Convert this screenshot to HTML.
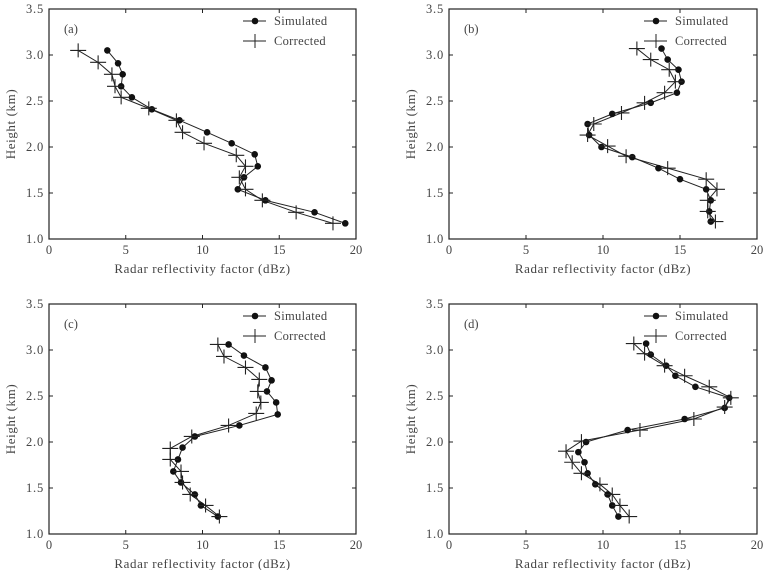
<!DOCTYPE html>
<html><head><meta charset="utf-8"><style>
body{margin:0;background:#fff;width:765px;height:570px;overflow:hidden}
svg{display:block}
text{font-family:"Liberation Serif",serif;fill:#444}
</style></head><body>
<svg id="chart" width="765" height="570"></svg>
<script>
const panelLabels=["(a)","(b)","(c)","(d)"];
const xTicks=[0,5,10,15,20];
const yTicks=[1.0,1.5,2.0,2.5,3.0,3.5];
const simA=[[3.8,3.05],[4.5,2.91],[4.8,2.79],[4.7,2.66],[5.4,2.54],[6.7,2.41],[8.5,2.29],[10.3,2.16],[11.9,2.04],[13.4,1.92],[13.6,1.79],[12.7,1.67],[12.3,1.54],[14.1,1.42],[17.3,1.29],[19.3,1.17]];
const corA=[[1.9,3.05],[3.2,2.92],[4.1,2.79],[4.3,2.66],[4.7,2.54],[6.5,2.42],[8.3,2.29],[8.7,2.16],[10.1,2.04],[12.2,1.91],[12.8,1.79],[12.4,1.67],[12.8,1.54],[13.9,1.42],[16.1,1.29],[18.5,1.17]];
const simB=[[13.8,3.07],[14.2,2.95],[14.9,2.84],[15.1,2.71],[14.8,2.59],[13.1,2.48],[10.6,2.36],[9.0,2.25],[9.1,2.13],[9.9,2.0],[11.9,1.89],[13.6,1.77],[15.0,1.65],[16.7,1.54],[17.0,1.42],[16.9,1.30],[17.0,1.19]];
const corB=[[12.2,3.07],[13.1,2.95],[14.3,2.84],[14.7,2.71],[14.0,2.59],[12.7,2.48],[11.2,2.37],[9.4,2.25],[9.0,2.13],[10.3,2.01],[11.5,1.90],[14.2,1.77],[16.7,1.65],[17.4,1.54],[16.8,1.42],[16.8,1.30],[17.3,1.19]];
const simC=[[11.7,3.06],[12.7,2.94],[14.1,2.81],[14.5,2.67],[14.2,2.55],[14.8,2.43],[14.9,2.30],[12.4,2.18],[9.5,2.06],[8.7,1.94],[8.4,1.81],[8.1,1.68],[8.6,1.56],[9.5,1.43],[9.9,1.31],[11.0,1.19]];
const corC=[[11.0,3.06],[11.4,2.93],[12.8,2.81],[13.7,2.68],[13.6,2.55],[13.8,2.43],[13.5,2.31],[11.7,2.18],[9.3,2.06],[7.9,1.93],[7.9,1.81],[8.6,1.68],[8.7,1.56],[9.2,1.43],[10.2,1.31],[11.1,1.19]];
const simD=[[12.8,3.07],[13.1,2.95],[14.1,2.83],[14.7,2.72],[16.0,2.60],[18.2,2.48],[17.9,2.37],[15.3,2.25],[11.6,2.13],[8.9,2.00],[8.4,1.89],[8.8,1.78],[9.0,1.66],[9.5,1.54],[10.3,1.43],[10.6,1.31],[11.0,1.19]];
const corD=[[12.0,3.07],[12.7,2.96],[14.0,2.83],[15.3,2.72],[16.9,2.60],[18.3,2.48],[17.9,2.38],[15.9,2.25],[12.4,2.13],[8.6,2.01],[7.6,1.90],[8.0,1.78],[8.6,1.66],[9.8,1.54],[10.6,1.43],[11.1,1.31],[11.7,1.19]];
const simulated=[simA,simB,simC,simD];
const corrected=[corA,corB,corC,corD];

const NS="http://www.w3.org/2000/svg";
const svg=document.getElementById('chart');
function mk(tag,attrs,parent){const e=document.createElementNS(NS,tag);for(const k in attrs)e.setAttribute(k,attrs[k]);(parent||svg).appendChild(e);return e;}
const boxes=[{x0:49,x1:356,y0:9,y1:239},{x0:449,x1:757,y0:9,y1:239},{x0:49,x1:356,y0:304,y1:534},{x0:449,x1:757,y0:304,y1:534}];
boxes.forEach((b,i)=>{
  const g=mk('g',{});
  
  
  const sx=v=>b.x0+(v-0)/20*(b.x1-b.x0);
  const sy=v=>b.y1-(v-1)/2.5*(b.y1-b.y0);
  const frame=mk('rect',{x:b.x0,y:b.y0,width:b.x1-b.x0,height:b.y1-b.y0,fill:'none',stroke:'#222','stroke-width':1.2},g);
  
  
  xTicks.forEach(t=>{
    const x=sx(t);
    mk('line',{x1:x,x2:x,y1:b.y1,y2:b.y1-4,stroke:'#222'},g);
    mk('line',{x1:x,x2:x,y1:b.y0,y2:b.y0+4,stroke:'#222'},g);
    const tl=mk('text',{x:x,y:b.y1+15,'text-anchor':'middle','font-size':12.5},g);tl.textContent=t;
    
    
  });
  yTicks.forEach(t=>{
    const y=sy(t);
    mk('line',{x1:b.x0,x2:b.x0+4,y1:y,y2:y,stroke:'#222'},g);
    mk('line',{x1:b.x1,x2:b.x1-4,y1:y,y2:y,stroke:'#222'},g);
    const tl=mk('text',{x:b.x0-5,y:y+4,'text-anchor':'end','font-size':12.5,'letter-spacing':'0.8'},g);tl.textContent=t.toFixed(1);
    
    
  });
  const xl=mk('text',{x:(b.x0+b.x1)/2,y:b.y1+34,'text-anchor':'middle','font-size':13,'letter-spacing':'0.6'},g);xl.textContent='Radar  reflectivity  factor  (dBz)';
  
  
  const yl=mk('text',{x:0,y:0,'text-anchor':'middle','font-size':13,'letter-spacing':'0.6',transform:`translate(${b.x0-34},${(b.y0+b.y1)/2}) rotate(-90)`},g);yl.textContent='Height  (km)';
  
  
  const pl=mk('text',{x:b.x0+15,y:b.y0+24,'font-size':12.5},g);pl.textContent=panelLabels[i];
  
  
  const s=simulated[i], c=corrected[i];
  const sl=mk('polyline',{points:s.map(p=>sx(p[0])+','+sy(p[1])).join(' '),fill:'none',stroke:'#222','stroke-width':1},g);
  
  
  const cl=mk('polyline',{points:c.map(p=>sx(p[0])+','+sy(p[1])).join(' '),fill:'none',stroke:'#222','stroke-width':1},g);
  
  
  s.forEach(p=>{const d=mk('circle',{cx:sx(p[0]),cy:sy(p[1]),r:3.3,fill:'#111'},g);
    
    });
  c.forEach(p=>{const x=sx(p[0]),y=sy(p[1]);
    const m=mk('path',{d:`M${x-8},${y}H${x+8}M${x},${y-7}V${y+7}`,stroke:'#222','stroke-width':1.1,fill:'none'},g);
    
    });
  const lx=b.x1-113, ly=b.y0+12;
  const lg=mk('g',{},g);
  
  
  mk('line',{x1:lx,x2:lx+23,y1:ly,y2:ly,stroke:'#222'},lg);
  mk('circle',{cx:lx+12,cy:ly,r:3.3,fill:'#111'},lg);
  const t1=mk('text',{x:lx+31,y:ly+4,'font-size':12.5,'letter-spacing':'0.3'},lg);t1.textContent='Simulated';
  
  
  mk('line',{x1:lx,x2:lx+23,y1:ly+20,y2:ly+20,stroke:'#222'},lg);
  mk('line',{x1:lx+12,x2:lx+12,y1:ly+13,y2:ly+27,stroke:'#222'},lg);
  const t2=mk('text',{x:lx+31,y:ly+24,'font-size':12.5,'letter-spacing':'0.3'},lg);t2.textContent='Corrected';
  
  
});
</script>
</body></html>
